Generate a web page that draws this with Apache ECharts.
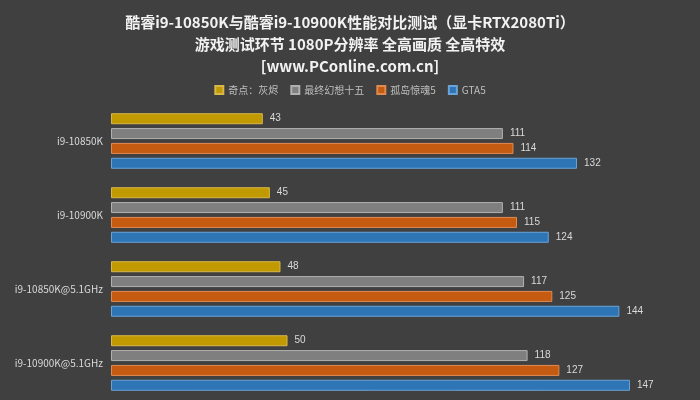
<!DOCTYPE html><html><head><meta charset="utf-8"><script src="https://cdn.jsdelivr.net/npm/echarts@6/dist/echarts.min.js"></script>
<style>html,body{margin:0;background:#404040}#c{width:700px;height:400px}</style></head><body><div id="c"></div><script>
const categories=['i9-10850K','i9-10900K','i9-10850K@5.1GHz','i9-10900K@5.1GHz'];
const seriesNames=['奇点：灰烬','最终幻想十五','孤岛惊魂5','GTA5'];
const ashes=[43,45,48,50];
const ff15=[111,111,117,118];
const farcry5=[114,115,125,127];
const gta5=[132,124,144,147];
const colors=['#c09a00','#7f7f7f','#c55a11','#2e75b6'];
const borders=['#d8b84a','#b0b0b0','#e08a50','#6aa3d8'];
const data=[ashes,ff15,farcry5,gta5];
const chart=echarts.init(document.getElementById('c'));
chart.setOption({backgroundColor:'#404040',animation:false,
title:{text:'酷睿i9-10850K与酷睿i9-10900K性能对比测试（显卡RTX2080Ti）\n游戏测试环节 1080P分辨率 全高画质 全高特效\n[www.PConline.com.cn]',left:'center',top:6,
textStyle:{color:'#f2f2f2',fontSize:15,fontWeight:'bold',lineHeight:22,fontFamily:'Noto Sans CJK SC'}},
legend:{top:80,left:'center',icon:'rect',itemWidth:8,itemHeight:8,itemGap:12,textStyle:{color:'#bfbfbf',fontSize:10,fontFamily:'Noto Sans CJK SC'},data:seriesNames},
grid:{left:111,right:10,top:104,bottom:-4,containLabel:false},
xAxis:{type:'value',min:0,max:164,show:false},
yAxis:{type:'category',inverse:true,data:categories,axisLine:{show:false},axisTick:{show:false},
axisLabel:{color:'#d9d9d9',fontSize:10,margin:8,fontFamily:'Noto Sans CJK SC'}},
series:seriesNames.map((n,i)=>({name:n,type:'bar',data:data[i],barWidth:11,barGap:'35%',barCategoryGap:'20%',
itemStyle:{color:colors[i],borderColor:borders[i],borderWidth:1},
label:{show:true,position:'right',color:'#d9d9d9',fontSize:10,distance:7}}))});
</script></body></html>
